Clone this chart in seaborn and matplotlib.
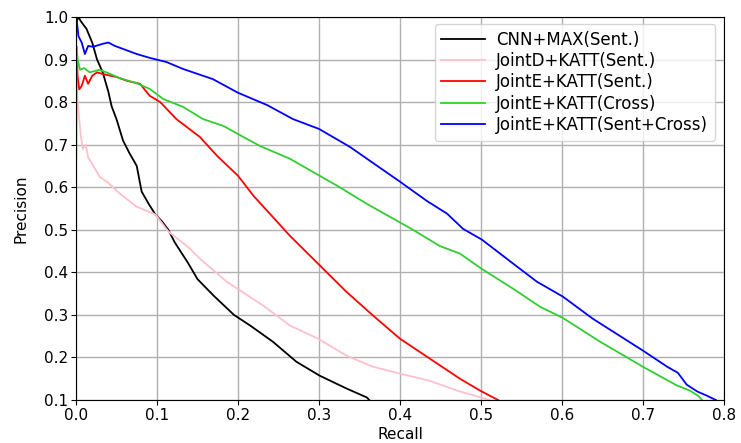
import matplotlib
matplotlib.use("Agg")
import matplotlib.pyplot as plt
import seaborn as sns
import pandas as pd

labels = ["CNN+MAX(Sent.)", "JointD+KATT(Sent.)", "JointE+KATT(Sent.)",
          "JointE+KATT(Cross)", "JointE+KATT(Sent+Cross)"]

cnn_recall = [0.001, 0.003, 0.006, 0.013, 0.02, 0.026, 0.033, 0.04, 0.044, 0.05, 0.058,
              0.066, 0.075, 0.081, 0.09, 0.098, 0.106, 0.114, 0.122, 0.138, 0.15, 0.17,
              0.195, 0.215, 0.243, 0.272, 0.301, 0.334, 0.359, 0.362]
cnn_prec = [0.99, 1.0, 0.99, 0.972, 0.94, 0.90, 0.87, 0.824, 0.79, 0.76, 0.71,
            0.68, 0.65, 0.59, 0.56, 0.536, 0.52, 0.50, 0.47, 0.423, 0.384, 0.345,
            0.30, 0.275, 0.237, 0.19, 0.157, 0.127, 0.106, 0.10]

jd_recall = [0.0005, 0.002, 0.004, 0.006, 0.0085, 0.012, 0.015, 0.02, 0.029, 0.04, 0.053,
             0.074, 0.098, 0.114, 0.138, 0.153, 0.186, 0.231, 0.264, 0.299, 0.334, 0.367,
             0.4, 0.437, 0.474, 0.511]
jd_prec = [0.86, 0.80, 0.76, 0.72, 0.69, 0.70, 0.67, 0.655, 0.625, 0.61, 0.587,
           0.555, 0.536, 0.496, 0.46, 0.432, 0.378, 0.322, 0.275, 0.244, 0.204, 0.178,
           0.162, 0.145, 0.12, 0.10]

je_recall = [0.0005, 0.002, 0.004, 0.007, 0.011, 0.015, 0.02, 0.026, 0.033, 0.05, 0.063,
             0.079, 0.091, 0.104, 0.124, 0.153, 0.174, 0.2, 0.219, 0.243, 0.264, 0.299,
             0.334, 0.367, 0.4, 0.437, 0.474, 0.499, 0.521]
je_prec = [0.93, 0.86, 0.83, 0.838, 0.862, 0.843, 0.862, 0.87, 0.866, 0.859, 0.85,
           0.843, 0.815, 0.80, 0.76, 0.718, 0.674, 0.627, 0.58, 0.53, 0.486, 0.42,
           0.354, 0.298, 0.244, 0.197, 0.15, 0.122, 0.10]

cross_recall = [0.0003, 0.0008, 0.002, 0.005, 0.01, 0.017, 0.029, 0.04, 0.053, 0.074, 0.091,
                0.108, 0.132, 0.157, 0.182, 0.2, 0.227, 0.264, 0.297, 0.322, 0.359, 0.388,
                0.416, 0.449, 0.474, 0.501, 0.54, 0.573, 0.601, 0.647, 0.7, 0.742, 0.758,
                0.768, 0.773]
cross_prec = [0.67, 0.93, 0.90, 0.876, 0.88, 0.87, 0.876, 0.868, 0.857, 0.845, 0.831,
              0.807, 0.789, 0.76, 0.744, 0.725, 0.697, 0.667, 0.631, 0.604, 0.561, 0.53,
              0.50, 0.462, 0.444, 0.408, 0.361, 0.319, 0.293, 0.237, 0.178, 0.134, 0.122,
              0.11, 0.10]

sc_recall = [0.0005, 0.003, 0.007, 0.011, 0.015, 0.021, 0.033, 0.04, 0.048, 0.058, 0.075,
             0.091, 0.112, 0.132, 0.169, 0.2, 0.236, 0.268, 0.3, 0.338, 0.372, 0.4,
             0.433, 0.458, 0.478, 0.501, 0.54, 0.569, 0.601, 0.638, 0.7, 0.73, 0.743,
             0.754, 0.767, 0.779, 0.79]
sc_prec = [1.0, 0.955, 0.94, 0.913, 0.932, 0.93, 0.937, 0.94, 0.932, 0.925, 0.913,
           0.904, 0.894, 0.878, 0.854, 0.822, 0.793, 0.76, 0.737, 0.695, 0.65, 0.613,
           0.568, 0.538, 0.502, 0.477, 0.42, 0.378, 0.343, 0.291, 0.216, 0.178, 0.164,
           0.136, 0.12, 0.11, 0.10]

colors = ["black", "pink", "red", "limegreen", "blue"]

series = [(cnn_recall, cnn_prec), (jd_recall, jd_prec), (je_recall, je_prec),
          (cross_recall, cross_prec), (sc_recall, sc_prec)]
frames = []
for lab, (r, p) in zip(labels, series):
    frames.append(pd.DataFrame({"Recall": r, "Precision": p, "model": lab}))
df = pd.concat(frames, ignore_index=True)

plt.rcParams["font.family"] = ["DejaVu Sans"]
fig = plt.figure(figsize=(7.41, 4.43), dpi=100)
ax = fig.add_axes([76 / 741, 1 - 400 / 443, (724 - 76) / 741, (400 - 17) / 443])
ax.set_axisbelow(True)
ax.grid(True, color="#b0b0b0", linewidth=1.0)

sns.lineplot(data=df, x="Recall", y="Precision", hue="model", hue_order=labels,
             palette=dict(zip(labels, colors)), estimator=None, sort=False,
             linewidth=1.3, ax=ax)

ax.set_xlim(0.0, 0.8)
ax.set_ylim(0.1, 1.0)
ax.set_xticks([0.0, 0.1, 0.2, 0.3, 0.4, 0.5, 0.6, 0.7, 0.8])
ax.set_yticks([0.1, 0.2, 0.3, 0.4, 0.5, 0.6, 0.7, 0.8, 0.9, 1.0])
ax.tick_params(labelsize=11, pad=2)
ax.set_xlabel("Recall", fontsize=11, labelpad=3)
ax.set_ylabel("Precision", fontsize=11, labelpad=11)
for s in ax.spines.values():
    s.set_color("black")

leg = ax.legend(loc="upper right", bbox_to_anchor=(0.986, 0.982), borderaxespad=0,
                fontsize=12, handlelength=2.6, handletextpad=0.7,
                labelspacing=0.2, borderpad=0.4, frameon=True)
for line in leg.get_lines():
    line.set_linewidth(1.3)

fig.savefig("out.png", dpi=100)
